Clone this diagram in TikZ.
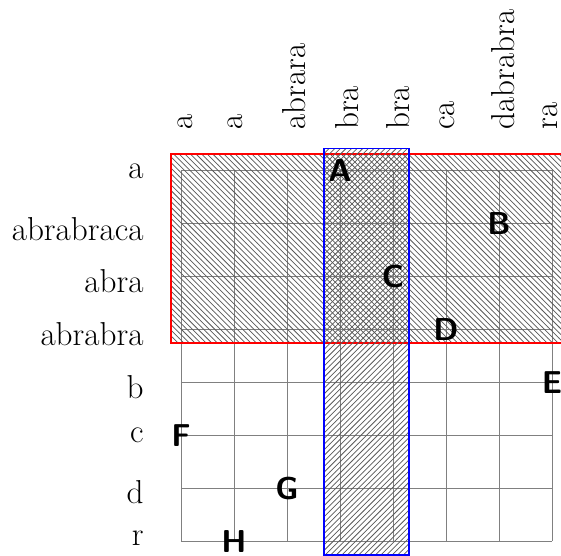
\documentclass[tikz,border=0pt]{standalone}
\usepackage{fontspec}
\usepackage{tikz}
\usetikzlibrary{patterns,positioning}
\definecolor{gsred}{RGB}{255,0,0}
\definecolor{gsblue}{RGB}{0,0,255}
\definecolor{gsgray}{RGB}{128,128,128}
\tikzset{
  rowlab/.style={anchor=base east, inner sep=0pt, font=\fontsize{17.8}{21}\selectfont},
  collab/.style={rotate=90, anchor=base west, inner sep=0pt, font=\fontsize{17.8}{21}\selectfont},
  gridpt/.style={inner sep=0pt, font=\fontsize{17}{20}\selectfont\sffamily\bfseries},
  rowband/.style={draw=gsred, thick, pattern=north west lines, pattern color=black!65},
  colband/.style={draw=gsblue, thick, pattern=north east lines, pattern color=black!65},
}
\begin{document}
\begin{tikzpicture}
\useasboundingbox (-3.415,3.21) rectangle (7.17,-7.28);
\clip (-3.415,3.21) rectangle (7.17,-7.28);
% The grid
\draw[gsgray, thin] (0,0) grid (7,-7);
% Highlighted row block and column block
\draw[rowband] (-0.19,0.30) rectangle (7.5,-3.26);
\draw[colband] (2.70,0.41) rectangle (4.30,-7.26);
% Row labels
\node[rowlab] (r0) at (-0.70,-0.151) {a};
\node[rowlab] (r1) at (-0.70,-1.321) {abrabraca};
\node[rowlab] (r2) at (-0.70,-2.315) {abra};
\node[rowlab] (r3) at (-0.70,-3.302) {abrabra};
\node[rowlab] (r4) at (-0.70,-4.302) {b};
\node[rowlab] (r5) at (-0.70,-5.132) {c};
\node[rowlab] (r6) at (-0.70,-6.283) {d};
\node[rowlab] (r7) at (-0.70,-7.08) {r};
% Column labels
\node[collab] (c0) at (0.21,0.755) {a};
\node[collab] (c1) at (1.17,0.755) {a};
\node[collab] (c2) at (2.34,0.755) {abrara};
\node[collab] (c3) at (3.34,0.755) {bra};
\node[collab] (c4) at (4.32,0.755) {bra};
\node[collab] (c5) at (5.17,0.755) {ca};
\node[collab] (c6) at (6.30,0.755) {dabrabra};
\node[collab] (c7) at (7.10,0.755) {ra};
% Points on the grid
\node[gridpt] (A) at (3,0) {A};
\node[gridpt] (B) at (6,-1) {B};
\node[gridpt] (C) at (4,-2) {C};
\node[gridpt] (D) at (5,-3) {D};
\node[gridpt] (E) at (7,-4) {E};
\node[gridpt] (F) at (0,-5) {F};
\node[gridpt] (G) at (2,-6) {G};
\node[gridpt] (H) at (1,-7) {H};
\end{tikzpicture}
\end{document}
